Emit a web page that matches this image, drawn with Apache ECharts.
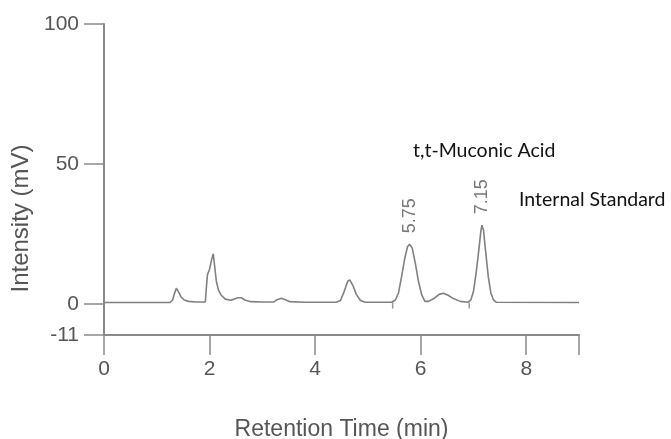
<!DOCTYPE html>
<html>
<head>
<meta charset="utf-8">
<script src="https://cdn.jsdelivr.net/npm/echarts@6/dist/echarts.min.js"></script>
<style>
html,body{margin:0;padding:0;background:#fff;}
#chart{width:671px;height:439px;}
</style>
</head>
<body>
<div id="chart"></div>
<script>
// Retention times (min) and intensities (mV)
var times = [0.00, 1.25, 1.30, 1.33, 1.37, 1.41, 1.46, 1.52, 1.60, 1.75, 1.92, 1.94, 1.96, 2.00, 2.04, 2.07, 2.10, 2.13, 2.17, 2.22, 2.30, 2.40, 2.47, 2.53, 2.60, 2.67, 2.78, 3.00, 3.22, 3.28, 3.36, 3.44, 3.52, 3.80, 4.40, 4.48, 4.55, 4.62, 4.66, 4.72, 4.78, 4.86, 4.95, 5.45, 5.52, 5.58, 5.64, 5.70, 5.75, 5.79, 5.84, 5.90, 5.96, 6.02, 6.08, 6.15, 6.25, 6.35, 6.43, 6.52, 6.62, 6.75, 6.90, 6.95, 7.00, 7.05, 7.10, 7.14, 7.16, 7.19, 7.23, 7.28, 7.33, 7.38, 7.43, 9.00];
var intensity = [0.6, 0.6, 1.5, 3.5, 5.7, 4.5, 2.6, 1.5, 1.0, 0.8, 0.8, 6, 10.5, 12.5, 16, 18, 13, 8, 5, 3.2, 1.8, 1.4, 1.8, 2.3, 2.3, 1.5, 0.9, 0.8, 0.8, 1.6, 2.1, 1.6, 0.9, 0.7, 0.7, 1.3, 4.5, 8.3, 8.6, 6.5, 3.5, 1.3, 0.7, 0.7, 1.5, 4, 10, 16.5, 20.5, 21.4, 20, 14.5, 8, 3.3, 1.0, 1.0, 2, 3.5, 3.9, 3.2, 2.0, 1.0, 0.7, 1.5, 4.5, 11, 19, 26, 28.2, 26.5, 19, 10, 4, 1.5, 0.7, 0.6];

// Peak annotations
var peakTimes = [5.79, 7.16];
var peakHeights = [21.4, 28.2];
var peakLabels = ['5.75', '7.15'];

// Integration start markers on the baseline
var markerTimes = [5.47, 6.92];
var markerLevel = [0.6, 0.6];

// Axis ticks
var yTickValues = [-11, 0, 50, 100];
var xLabelValues = [0, 2, 4, 6, 8];
var xTickValues = [0, 2, 4, 6, 8, 9];

var signal = times.map(function (t, i) { return [t, intensity[i]]; });
var peaks = peakTimes.map(function (t, i) { return [t, peakHeights[i], peakLabels[i]]; });
var markers = markerTimes.map(function (t, i) { return [t, markerLevel[i]]; });

var gray = '#8a8a8a';
var textGray = '#555555';
var font = '"Liberation Sans", Arial, sans-serif';

var chart = echarts.init(document.getElementById('chart'));
chart.setOption({
  animation: false,
  backgroundColor: '#fff',
  grid: { left: 104, right: 92, top: 24, bottom: 104, outerBoundsMode: 'none', containLabel: false },
  xAxis: {
    type: 'value', min: 0, max: 9,
    name: 'Retention Time (min)', nameLocation: 'middle', nameGap: 83,
    nameTextStyle: { fontFamily: font, fontSize: 23, color: textGray },
    axisLine: { onZero: false, lineStyle: { color: gray, width: 2 } },
    axisTick: { show: true, length: 20, customValues: xTickValues, lineStyle: { color: gray, width: 1.5 } },
    axisLabel: { customValues: xLabelValues, margin: 24, fontFamily: font, fontSize: 21, color: textGray },
    splitLine: { show: false }
  },
  yAxis: {
    type: 'value', min: -11, max: 100,
    name: 'Intensity (mV)', nameLocation: 'middle', nameGap: 68,
    nameTextStyle: { fontFamily: font, fontSize: 24, color: textGray, padding: [0, 78, 0, 0] },
    axisLine: { show: true, lineStyle: { color: gray, width: 2 } },
    axisTick: { show: true, length: 20, customValues: yTickValues, lineStyle: { color: gray, width: 1.5 } },
    axisLabel: { customValues: yTickValues, margin: 25, fontFamily: font, fontSize: 21, color: textGray },
    splitLine: { show: false }
  },
  series: [
    {
      type: 'line', data: signal, showSymbol: false, smooth: false,
      lineStyle: { color: '#808080', width: 1.6 }, z: 3
    },
    {
      type: 'scatter', data: markers, symbol: 'rect', symbolSize: [1.5, 6], symbolOffset: [0, 3],
      itemStyle: { color: '#808080' }, z: 2
    },
    {
      type: 'scatter', data: peaks, symbolSize: 0,
      label: {
        show: true, position: 'top', distance: 11, rotate: 90,
        align: 'left', verticalAlign: 'middle',
        formatter: function (p) { return p.data[2]; },
        fontFamily: font, fontSize: 18, color: textGray
      }
    }
  ],
  graphic: [
    { type: 'text', x: 413, y: 151, style: { text: 't,t-Muconic Acid', font: '19.5px Lato, "Open Sans", sans-serif', fill: '#111', verticalAlign: 'middle' } },
    { type: 'text', x: 519, y: 200, style: { text: 'Internal Standard', font: '19.5px Lato, "Open Sans", sans-serif', fill: '#111', verticalAlign: 'middle' } }
  ]
});
</script>
</body>
</html>
